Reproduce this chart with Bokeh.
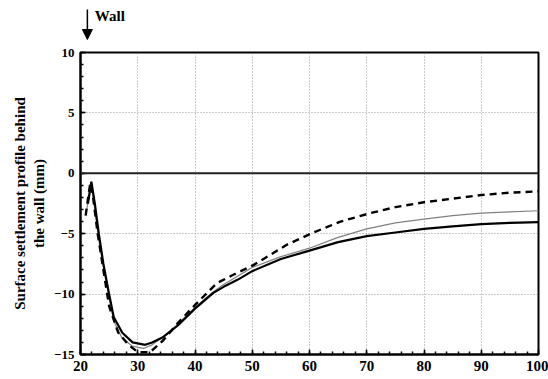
from bokeh.plotting import figure
from bokeh.layouts import column
from bokeh.models import Span, Arrow, NormalHead, Label, Range1d, FixedTicker
from bokeh.embed import file_html
from bokeh.resources import INLINE

# ---- data ----
x_solid = [21.3, 21.9, 22.5, 23.2, 24.0, 25.0, 25.8, 27.3, 29.1, 31.3, 32.5, 34.3, 37.0,
           40.0, 43.2, 45.0, 47.5, 50.0, 55.0, 60.0, 65.0, 70.0, 75.0, 80.0, 85.0, 90.0, 95.0, 100.0]
y_solid = [-2.5, -0.7, -2.5, -5.0, -7.5, -10.0, -11.9, -13.2, -14.0, -14.2, -14.0, -13.6, -12.6,
           -11.2, -9.9, -9.4, -8.8, -8.1, -7.1, -6.4, -5.7, -5.2, -4.9, -4.6, -4.4, -4.2, -4.1, -4.05]

x_gray = [21.1, 21.8, 22.4, 23.1, 24.0, 25.0, 25.8, 27.2, 29.0, 31.0, 32.5, 34.3, 37.0,
          40.0, 43.2, 45.0, 47.5, 50.0, 55.0, 60.0, 65.0, 70.0, 75.0, 80.0, 85.0, 90.0, 95.0, 100.0]
y_gray = [-3.0, -0.75, -2.6, -5.2, -7.8, -10.3, -12.2, -13.6, -14.3, -14.5, -14.2, -13.6, -12.5,
          -11.1, -9.8, -9.2, -8.5, -7.8, -6.9, -6.2, -5.3, -4.6, -4.1, -3.8, -3.5, -3.3, -3.2, -3.1]

x_dash = [20.9, 21.7, 22.2, 23.0, 24.0, 25.0, 26.6, 28.4, 30.0, 32.2, 34.5, 37.0,
          40.0, 43.8, 46.7, 50.2, 56.1, 60.7, 65.4, 70.6, 75.0, 80.0, 85.0, 90.0, 95.0, 100.0]
y_dash = [-3.5, -0.8, -2.0, -5.0, -8.0, -11.0, -13.2, -14.2, -14.8, -14.8, -13.8, -12.4,
          -10.9, -9.1, -8.4, -7.6, -5.9, -4.9, -4.0, -3.3, -2.8, -2.4, -2.1, -1.8, -1.6, -1.5]

x_ticks = [20, 30, 40, 50, 60, 70, 80, 90, 100]
y_ticks = [-15, -10, -5, 0, 5, 10]
wall_x = 21.2
wall_text = "Wall"

FONT = "Liberation Serif"

xr = Range1d(20, 100)

# ---- header strip holding the wall marker ----
head = figure(width=548, height=42, output_backend="svg", toolbar_location=None,
              x_range=xr, y_range=Range1d(0, 42),
              x_axis_type=None, y_axis_type=None,
              min_border_left=80, min_border_right=10, min_border_top=0, min_border_bottom=0)
head.outline_line_color = None
head.xgrid.visible = False
head.ygrid.visible = False
head.background_fill_color = "white"
head.border_fill_color = "white"
head.add_layout(Arrow(x_start=wall_x, y_start=33, x_end=wall_x, y_end=3,
                      line_color="black", line_width=1.5,
                      end=NormalHead(size=10, fill_color="black", line_color="black")))
head.add_layout(Label(x=22.5, y=19, text=wall_text, text_font=FONT, text_font_style="bold",
                      text_font_size="15px", text_color="black", text_baseline="bottom"))

# ---- main chart ----
p = figure(width=548, height=337, output_backend="svg", toolbar_location=None,
           x_range=xr, y_range=Range1d(-15, 10),
           min_border_left=80, min_border_right=10, min_border_top=10, min_border_bottom=25)

p.background_fill_color = "white"
p.border_fill_color = "white"
p.outline_line_color = "black"
p.outline_line_width = 2

for g in (p.xgrid, p.ygrid):
    g.grid_line_color = "#999999"
    g.grid_line_dash = "1 2"
    g.grid_line_width = 1
p.xgrid.ticker = FixedTicker(ticks=x_ticks)
p.ygrid.ticker = FixedTicker(ticks=y_ticks)

p.xaxis.ticker = FixedTicker(ticks=x_ticks, minor_ticks=[20 + 2 * i for i in range(41)])
p.yaxis.ticker = FixedTicker(ticks=y_ticks, minor_ticks=[-15 + i for i in range(26)])
for ax in (p.xaxis, p.yaxis):
    ax.axis_line_color = "black"
    ax.axis_line_width = 2
    ax.major_tick_in = 5
    ax.major_tick_out = 0
    ax.minor_tick_in = 3
    ax.minor_tick_out = 0
    ax.major_tick_line_color = "black"
    ax.minor_tick_line_color = "black"
    ax.major_tick_line_width = 1.5
    ax.minor_tick_line_width = 1.5
    ax.major_label_text_font = FONT
    ax.major_label_text_font_style = "bold"
    ax.major_label_text_color = "black"
    ax.major_label_standoff = 6
p.xaxis.major_label_text_font_size = "15px"
p.yaxis.major_label_text_font_size = "13px"

p.yaxis.axis_label = "Surface settlement profile behind\nthe wall (mm)"
p.yaxis.axis_label_text_font = FONT
p.yaxis.axis_label_text_font_style = "bold"
p.yaxis.axis_label_text_font_size = "15px"
p.yaxis.axis_label_text_color = "black"
p.yaxis.axis_label_standoff = 4

p.add_layout(Span(location=0, dimension="width", line_color="#222222", line_width=2))

p.line(x_gray, y_gray, line_color="#808080", line_width=1.2)
p.line(x_solid, y_solid, line_color="black", line_width=2.2)
p.line(x_dash, y_dash, line_color="black", line_width=2.4, line_dash="7 5")

layout = column(head, p, spacing=0)
open("out.html", "w").write(file_html(layout, INLINE))
